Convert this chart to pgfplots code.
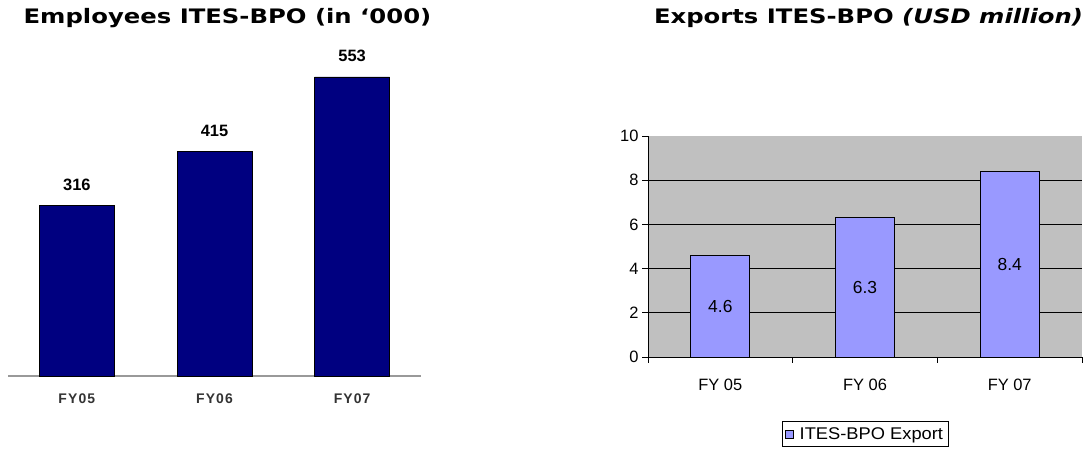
\documentclass[border=0pt]{standalone}
\usepackage{pgfplots}
\pgfplotsset{compat=1.18}
\usepackage{fontspec}
\setmainfont{Liberation Sans}
\newfontfamily\titlefont[FakeStretch=1.22]{DejaVu Sans}
\newfontfamily\spacedfont[LetterSpace=8]{Liberation Sans}
\newfontfamily\legfont[FakeStretch=1.08]{Liberation Sans}
\definecolor{navybar}{HTML}{000080}
\definecolor{lavbar}{HTML}{9999FF}
\definecolor{plotgray}{HTML}{C0C0C0}
\definecolor{ticktxt}{HTML}{333333}
\begin{document}
\begin{tikzpicture}[x=1bp,y=1bp]
\path[use as bounding box] (0,0) rectangle (1088,454);
\clip (0,0) rectangle (1088,454);
\node[font=\titlefont\bfseries\fontsize{20}{24}\selectfont] at (227.5,436) {Employees ITES-BPO (in ‘000)};
\node[font=\titlefont\bfseries\fontsize{20}{24}\selectfont] at (868.5,436) {Exports ITES-BPO \textit{(USD million)}};

\begin{axis}[
  at={(8bp,78bp)}, anchor=south west, scale only axis,
  width=413bp, height=324.4bp,
  xmin=-0.5, xmax=2.5, ymin=0, ymax=600,
  axis x line*=bottom, axis y line=none,
  ybar, bar width=75bp, clip=false,
  /pgf/number format/assume math mode=true,
  xtick={0,1,2}, xticklabels={FY05,FY06,FY07},
  major tick length=0,
  x axis line style={draw=black!40, line width=1.2bp},
  xticklabel style={font=\spacedfont\bfseries\fontsize{14}{16}\selectfont, text=ticktxt, anchor=base, yshift=-28bp},
  nodes near coords,
  every node near coord/.append style={font=\bfseries\fontsize{16.5}{19}\selectfont, anchor=base, yshift=15bp, text=black},
]
\addplot[fill=navybar, draw=black, line width=0.8bp] coordinates {(0,316)(1,415)(2,553)};
\end{axis}

\begin{axis}[
  at={(648bp,97bp)}, anchor=south west, scale only axis,
  width=434bp, height=221bp,
  xmin=-0.5, xmax=2.5, ymin=0, ymax=10,
  ybar, bar width=59bp,
  /pgf/number format/assume math mode=true,
  axis background/.style={fill=plotgray},
  axis x line*=bottom, axis y line*=left,
  axis line style={black, line width=0.8bp},
  tick align=outside, major tick length=6bp,
  tick style={black, line width=0.8bp},
  xtick={-0.5,0.5,1.5,2.5}, xticklabels={},
  extra x ticks={0,1,2}, extra x tick labels={FY 05,FY 06,FY 07},
  extra x tick style={major tick length=0},
  xticklabel style={anchor=base, yshift=-33.5bp},
  ytick={0,2,...,10},
  extra y ticks={2,4,6,8}, extra y tick labels={},
  extra y tick style={grid=major},
  grid style={black, line width=0.7bp},
  tick label style={font=\fontsize{16.5}{19}\selectfont},
  nodes near coords,
  visualization depends on={rawy \as \rawy},
  every node near coord/.append style={font=\fontsize{17.5}{20}\selectfont, anchor=center, yshift=-11.09*\rawy},
  legend style={at={(0.5,0)}, anchor=north, yshift=-64bp, draw=black, line width=0.6bp, font=\legfont\fontsize{17}{20}\selectfont, inner xsep=3bp, inner ysep=4bp},
]
\addplot[fill=lavbar, draw=black, line width=0.8bp,
  legend image code/.code={\draw[fill=lavbar, draw=black, line width=0.6bp] (0bp,-4bp) rectangle (8bp,4bp); \path (12bp,0bp);}]
  coordinates {(0,4.6)(1,6.3)(2,8.4)};
\addlegendentry{ITES-BPO Export}
\end{axis}
\end{tikzpicture}
\end{document}
